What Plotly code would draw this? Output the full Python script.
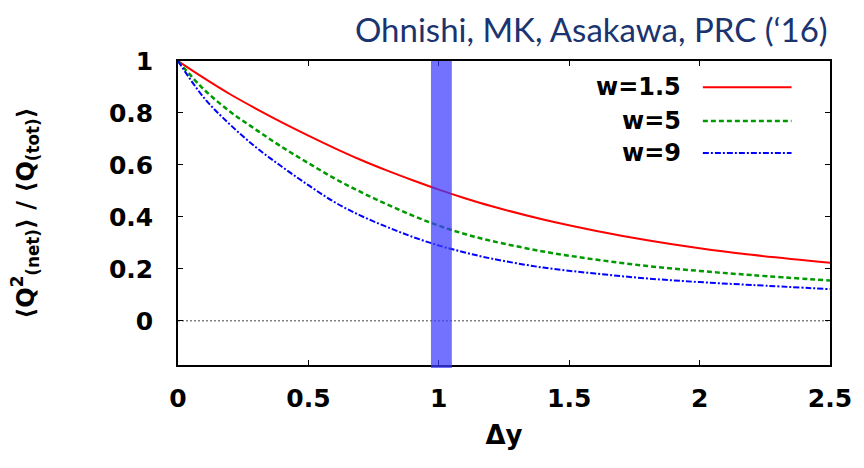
import plotly.graph_objects as go

# Rapidity window and normalised net-charge fluctuation for three widths
dy = [0.0, 0.1, 0.2, 0.3, 0.4, 0.5, 0.6, 0.7, 0.8, 0.9, 1.0, 1.1, 1.2, 1.4, 1.6, 1.8,
      2.0, 2.2, 2.5]
ratio_w15 = [1.0, 0.934, 0.872, 0.816, 0.763, 0.713, 0.665, 0.620, 0.579, 0.541, 0.505,
             0.472, 0.442, 0.390, 0.347, 0.310, 0.279, 0.254, 0.224]
ratio_w5 = [1.0, 0.890, 0.805, 0.735, 0.668, 0.607, 0.548, 0.496, 0.449, 0.405, 0.366,
            0.334, 0.308, 0.267, 0.236, 0.211, 0.192, 0.176, 0.155]
ratio_w9 = [1.0, 0.858, 0.755, 0.667, 0.592, 0.522, 0.457, 0.405, 0.362, 0.323, 0.290,
            0.263, 0.240, 0.205, 0.182, 0.163, 0.149, 0.138, 0.122]

series_names = ["w=1.5", "w=5", "w=9"]
series_colors = ["#ff0000", "#009a00", "#0000ff"]
series_dash = ["solid", "5px,3px", "6px,2px,2px,2px"]
series_width = [2, 2.5, 2]

x_ticks = [0, 0.5, 1, 1.5, 2, 2.5]
x_ticktext = ["0", "0.5", "1", "1.5", "2", "2.5"]
y_ticks = [0, 0.2, 0.4, 0.6, 0.8, 1]
y_ticktext = ["0", "0.2", "0.4", "0.6", "0.8", "1"]

window = [0.97, 1.05]  # highlighted acceptance window in Δy

BOLD = "DejaVu Sans, sans-serif"
tick_font = dict(family=BOLD, size=25, color="black", weight="bold")

fig = go.Figure()
for ys, name, col, dash, wd in zip([ratio_w15, ratio_w5, ratio_w9], series_names,
                                   series_colors, series_dash, series_width):
    fig.add_trace(go.Scatter(x=dy, y=ys, mode="lines", name=name,
                             line=dict(color=col, dash=dash, width=wd, shape="spline"),
                             showlegend=False))

# zero reference line
fig.add_hline(y=0, line=dict(color="#444444", width=1, dash="2px,2px"), layer="below")

# highlighted window band
fig.add_vrect(x0=window[0], x1=window[1], y0=-0.01, y1=1.0,
              fillcolor="rgba(60,60,255,0.72)", line_width=0, layer="above")

# key: labels on the left, line samples on the right
key_y = [0.914, 0.803, 0.697]
for name, col, dash, wd, ky in zip(series_names, series_colors, series_dash,
                                   series_width, key_y):
    fig.add_annotation(x=0.774, y=ky, xref="paper", yref="paper", text=f"<b>{name}</b>",
                       showarrow=False, xanchor="right", yanchor="middle",
                       font=dict(family=BOLD, size=24, color="black"))
    fig.add_shape(type="line", xref="paper", yref="paper", x0=0.805, x1=0.941,
                  y0=ky, y1=ky, line=dict(color=col, dash=dash, width=wd))

fig.add_annotation(x=1.0, y=1.0, xref="paper", yref="paper", yshift=10,
                   text="Ohnishi, MK, Asakawa, PRC (‘16)", showarrow=False,
                   xanchor="right", yanchor="bottom",
                   font=dict(family="Lato, sans-serif", size=33, color="#1b3470"))

fig.update_layout(
    width=864, height=468,
    margin=dict(l=178, r=30, t=61, b=103),
    paper_bgcolor="white", plot_bgcolor="white",
    xaxis=dict(range=[0, 2.5], tickvals=x_ticks, ticktext=x_ticktext,
               ticks="inside", ticklen=5, tickcolor="black", tickwidth=1,
               showline=True, linecolor="black", linewidth=1.5, mirror="allticks",
               showgrid=False, zeroline=False, tickfont=tick_font,
               ticklabelstandoff=10,
               title=dict(text="<b>Δy</b>", standoff=14,
                          font=dict(family=BOLD, size=26, color="black"))),
    yaxis=dict(range=[-0.17, 1.0], tickvals=y_ticks, ticktext=y_ticktext,
               ticks="inside", ticklen=5, tickcolor="black", tickwidth=1,
               showline=True, linecolor="black", linewidth=1.5, mirror="allticks",
               showgrid=False, zeroline=False, tickfont=tick_font,
               ticklabelstandoff=18,
               title=dict(text="<b>⟨Q<sup>2</sup><sub>(net)</sub>⟩ / ⟨Q<sub>(tot)</sub>⟩</b>",
                          standoff=68,
                          font=dict(family=BOLD, size=24, color="black"))),
)

fig.write_html("out.html")
